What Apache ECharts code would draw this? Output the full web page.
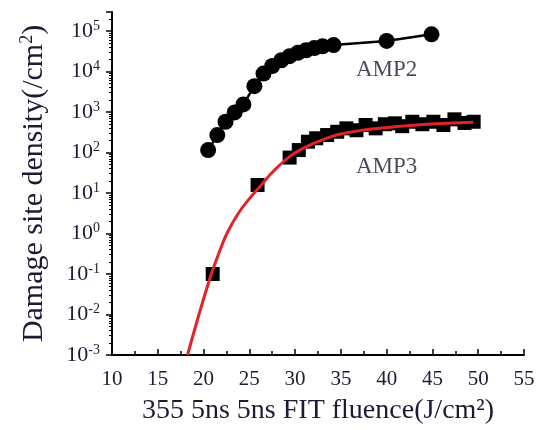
<!DOCTYPE html>
<html>
<head>
<meta charset="utf-8">
<script src="https://cdn.jsdelivr.net/npm/echarts@6/dist/echarts.min.js"></script>
<style>html,body{margin:0;padding:0;background:#fff}#c{width:543px;height:430px}</style>
</head>
<body>
<div id="c"></div>
<script>
// ---- data ----
const amp2X = [20.5, 21.5, 22.4, 23.4, 24.35, 25.55, 26.55, 27.5, 28.5, 29.4, 30.3, 31.2, 32.1, 33.0, 34.2, 40.0, 44.9];
const amp2Y = [115, 270, 575, 975, 1540, 4350, 8900, 13700, 19000, 24000, 29000, 33500, 38000, 42000, 45000, 57000, 83000];

const amp3X = [21.0, 25.9, 29.4, 30.4, 31.4, 32.3, 33.5, 34.6, 35.6, 36.7, 37.7, 38.8, 39.8, 40.9, 41.7, 42.8, 43.9, 45.1, 46.2, 47.4, 48.5, 49.5];
const amp3Y = [0.1, 15.8, 75, 115, 185, 225, 270, 325, 395, 355, 478, 395, 500, 525, 447, 575, 500, 575, 478, 660, 537, 575];

const fitX = [18.25, 19.5, 20.85, 21.65, 22.55, 23.8, 24.9, 26.2, 27.6, 29.4, 31.2, 33.04, 34.86, 37.05, 40.7, 44.36, 49.46];
const fitY = [0.001, 0.01, 0.1, 0.316, 1.0, 3.16, 6.76, 14.8, 33.9, 79, 138, 209, 282, 347, 427, 501, 562];

const noteText = ['AMP2', 'AMP3'];
const noteX = [40.0, 40.0];
const noteY = [10700, 45];

const xMin = 10, xMax = 55, xStep = 5;
const yMin = 0.001, yMax = 295000;

const xTitle = '355 5ns 5ns FIT fluence(J/cm\u00B2)';
const yTitle = 'Damage site density(/cm{sup|2})';

// ---- chart ----
const FONT = "'Liberation Serif', 'Times New Roman', serif";
const TXT = '#1b1c33';
const zip = (a, b) => a.map((v, i) => [v, b[i]]);

const chart = echarts.init(document.getElementById('c'), null, {renderer: 'canvas'});
chart.setOption({
  backgroundColor: '#fff',
  animation: false,
  grid: {left: 112, right: 19, top: 12, bottom: 75},
  xAxis: {
    type: 'value', min: xMin, max: xMax, interval: xStep,
    name: xTitle, nameLocation: 'middle', nameGap: 42,
    nameTextStyle: {fontFamily: FONT, fontSize: 28, color: TXT},
    axisLine: {lineStyle: {color: '#000', width: 2}},
    axisTick: {inside: true, length: 6, lineStyle: {color: '#000', width: 1.5}},
    minorTick: {show: true, splitNumber: 2, length: 4, lineStyle: {color: '#000', width: 1.5}},
    splitLine: {show: false},
    axisLabel: {fontFamily: FONT, fontSize: 21, color: TXT, margin: 14}
  },
  yAxis: {
    type: 'log', logBase: 10, min: yMin, max: yMax,
    name: yTitle, nameLocation: 'middle', nameGap: 62,
    nameTextStyle: {fontFamily: FONT, fontSize: 30, color: TXT,
      rich: {sup: {fontFamily: FONT, fontSize: 18, color: TXT, padding: [0, 0, 14, 0]}}},
    axisLine: {show: true, lineStyle: {color: '#000', width: 2}},
    axisTick: {inside: false, length: 6, lineStyle: {color: '#000', width: 1.5}},
    minorTick: {show: true, splitNumber: 9, length: 3, lineStyle: {color: '#000', width: 1}},
    splitLine: {show: false},
    minorSplitLine: {show: false},
    axisLabel: {
      fontFamily: FONT, fontSize: 21, color: TXT, margin: 12,
      formatter: function (v) {
        const e = Math.log10(v);
        const r = Math.round(e);
        if (Math.abs(e - r) > 1e-6) return '';
        return '{b|10}{sup|' + r + '}';
      },
      rich: {
        b: {fontFamily: FONT, fontSize: 22, color: TXT},
        sup: {fontFamily: FONT, fontSize: 14, color: TXT, padding: [0, 0, 10, 0]}
      }
    }
  },
  series: [
    {
      name: 'AMP2', type: 'line', data: zip(amp2X, amp2Y),
      symbol: 'circle', symbolSize: 16,
      itemStyle: {color: '#000', opacity: 1}, lineStyle: {color: '#000', width: 2.5}, z: 2
    },
    {
      name: 'AMP3', type: 'scatter', data: zip(amp3X, amp3Y),
      symbol: 'rect', symbolSize: 14, itemStyle: {color: '#000', opacity: 1}, z: 2
    },
    {
      name: 'fit', type: 'line', data: zip(fitX, fitY),
      symbol: 'none', smooth: 0.4,
      lineStyle: {color: '#e3232b', width: 3}, z: 3
    },
    {
      name: 'notes', type: 'scatter', data: zip(noteX, noteY),
      symbolSize: 0, silent: true, z: 4,
      label: {
        show: true, position: 'inside',
        formatter: p => noteText[p.dataIndex],
        fontFamily: FONT, fontSize: 23, color: TXT
      }
    }
  ]
});
</script>
</body>
</html>
